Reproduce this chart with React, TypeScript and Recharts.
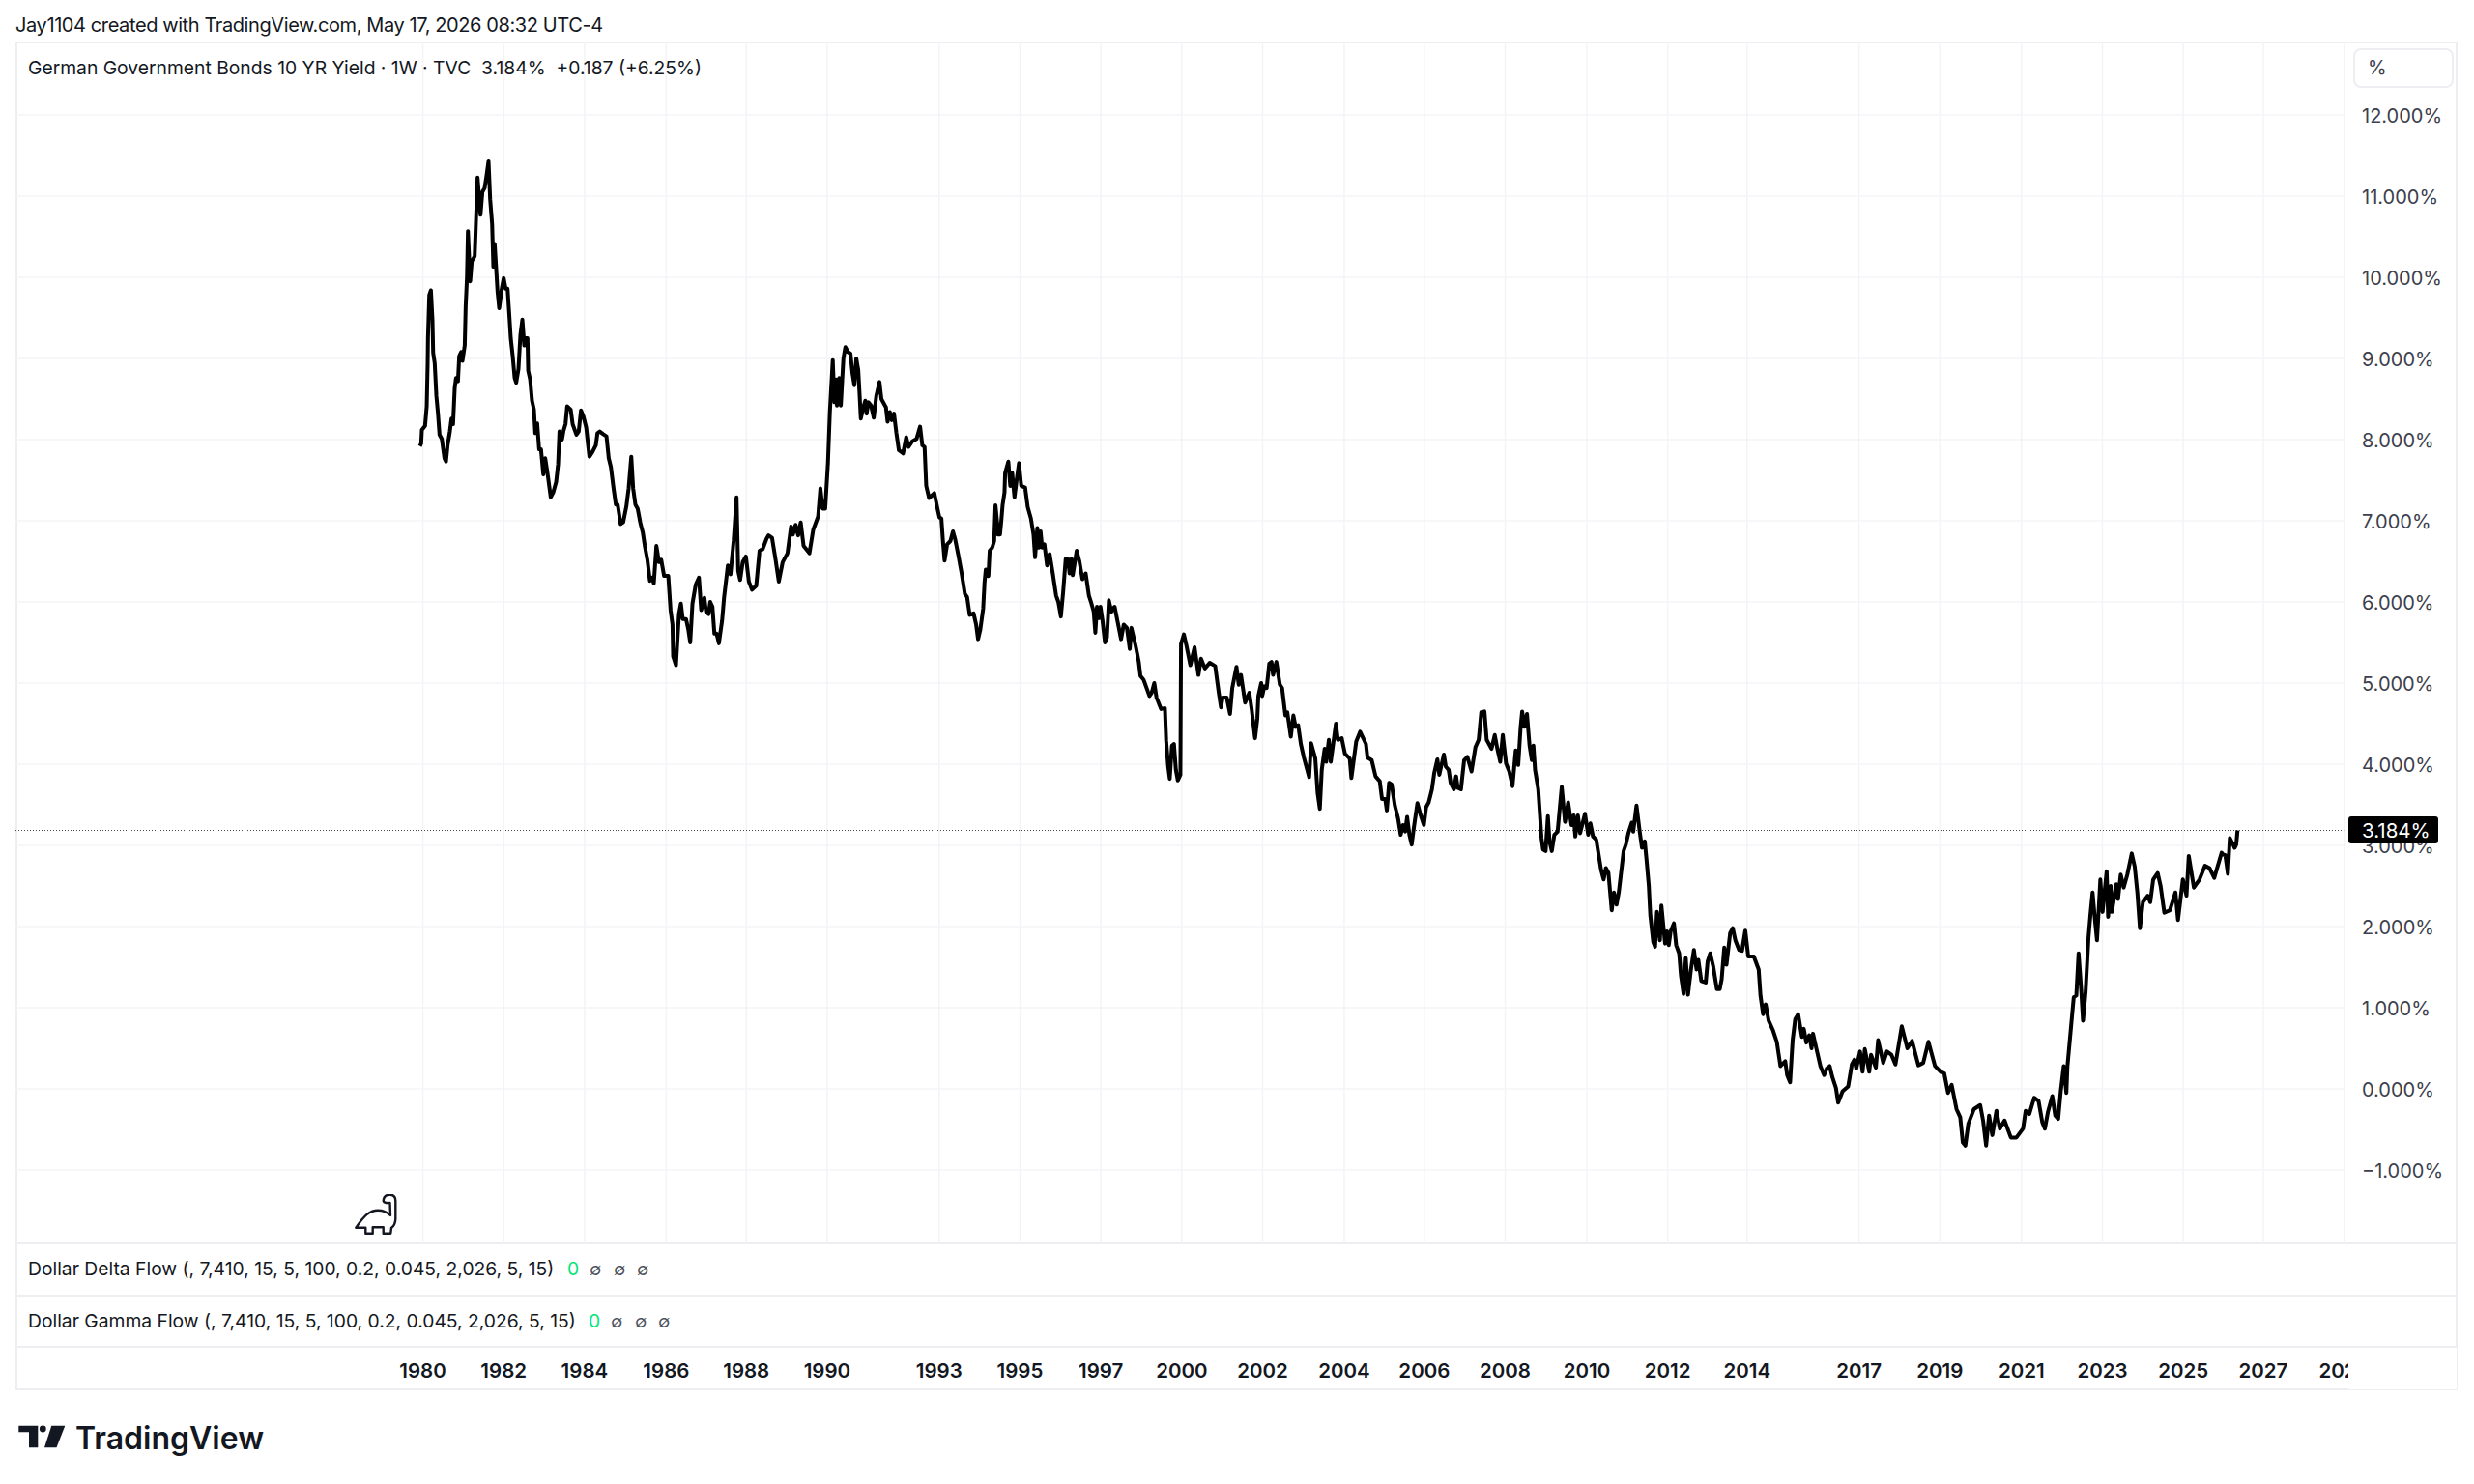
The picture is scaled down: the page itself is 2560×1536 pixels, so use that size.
import React from "react";
import { LineChart, Line, XAxis, YAxis, CartesianGrid, ReferenceLine } from "recharts";

// [weeks since the start of 1980 on TradingView's bar axis, 10Y yield in %]
const era1980s: number[][] = [
  [-3.7,7.92],[-2.1,7.95],[-1.2,8.12],[2.9,8.17],[5,8.41],[6.2,8.94],[6.6,9.25],[8.3,9.78],[10.4,9.84],[12.4,9.47],[13.3,9.07],[15.3,8.94],[17.4,8.54],[19.5,8.32],[21.5,8.06],[24.4,8.01],[27.8,7.77],[29.8,7.73],[31.9,7.93],[34.8,8.1],[36.9,8.26],[38.9,8.19],[41,8.63],[42.7,8.76],[45.2,8.72],[46.8,9.03],[49.3,9.08],[51,8.97],[53.9,9.16],[55.1,9.64],[56.8,10],[58,10.57],[60.9,9.95],[63,10.2],[66.7,10.26],[70.4,11.23],[74.2,10.77],[76.6,11.05],[79.5,11.1],[81.6,11.23],[84.5,11.43],[86.6,10.96],[89.1,10.66],[90.7,10.13],[92.4,10.41],[94.5,10.08],[96.1,9.82],[98.2,9.62],[101.5,9.86],[104,9.99],[106.5,9.86],[109,9.86],[111.4,9.51],[113.1,9.25],[115.6,9.03],[118.1,8.76],[120.1,8.7],[123,8.87],[125.5,9.29],[128,9.48],[130.5,9.16],[132.2,9.25],[134.6,9.25],[135.5,8.85],[138,8.74],[140.4,8.48],[142.9,8.37],[144.6,8.08],[147.1,8.2],[149.6,7.88],[152,7.88],[155,7.57],[157.4,7.77],[160.3,7.59],[164.5,7.29],[167.8,7.35],[171.5,7.48],[174,7.7],[175.7,8.1],[179,8],[181,8.11],[183.5,8.19],[185.6,8.41],[190.2,8.37],[192.7,8.19],[197.6,8.06],[200.5,8.1],[203.4,8.36],[206.7,8.28],[210.1,8.15],[212.1,7.97],[214.2,7.79],[218.3,7.85],[222.5,7.93],[224.6,8.08],[227.5,8.1],[231.6,8.07],[236.2,8.04],[239.1,7.77],[241.9,7.66],[245.3,7.4],[248.2,7.2],[250.6,7.2],[254.4,6.96],[257.7,6.98],[261.8,7.18],[264.7,7.4],[268.1,7.79],[270.5,7.4],[273.4,7.2],[276.3,7.15],[279.6,6.98],[283,6.85],[285.5,6.69],[288.8,6.52],[292.1,6.26],[295,6.3],[297.1,6.23],[300.4,6.69],[303.7,6.49],[306.6,6.52],[310.3,6.32],[315.7,6.32],[318.6,5.9],[321.1,5.72],[321.9,5.33],[325.6,5.22],[327.3,5.5],[329.4,5.85],[331.9,5.98],[334.3,5.79],[338.5,5.79],[341.4,5.66],[343.9,5.5],[346.8,5.98],[350.9,6.21],[355.1,6.3],[358,5.9],[362.1,6.05],[364.2,5.88],[367.5,5.85],[369.6,6],[372.5,5.94],[375,5.61],[377.8,5.61],[380.8,5.49],[384.9,5.77],[387.4,6.05],[392.3,6.45],[395.7,6.34],[399.8,6.76],[403.5,7.29],[405.6,6.38],[408.1,6.27],[411.4,6.49],[415.5,6.56],[419.3,6.25],[423.4,6.15],[428.8,6.2],[433,6.63],[437.1,6.65],[442.1,6.78],[444.6,6.82],[449.1,6.79],[453.7,6.52],[457.8,6.25],[462.8,6.49],[469,6.6],[473.6,6.93],[476,6.83],[479.4,6.95],[482.7,6.82],[486,6.98],[489.7,6.69],[497.2,6.6],[502.1,6.89],[508.3,7.05],[511.3,7.4],[514.2,7.15],[517.5,7.15],[521,7.71],
];

const era1990s: number[][] = [
  [523.5,8.34],[527.2,8.98],[529.3,8.46],[531.4,8.74],[532.6,8.42],[535.5,8.76],[537.6,8.42],[540.9,9],[543.4,9.14],[546.7,9.08],[550,9.06],[552.5,8.82],[555,8.67],[557.5,9],[560,8.86],[561.6,8.58],[563.3,8.26],[566.6,8.4],[569.1,8.48],[570.7,8.32],[573.2,8.46],[576.5,8.42],[579.9,8.27],[583.2,8.54],[587.3,8.71],[589.8,8.5],[595.6,8.4],[597.7,8.22],[600.6,8.34],[603.1,8.24],[606,8.32],[608.9,8.09],[612.2,7.87],[617.6,7.83],[621.7,8.03],[624.6,7.91],[629.6,7.98],[635,8.01],[639.5,8.16],[642.4,7.93],[645.3,7.91],[647.4,7.43],[651.1,7.28],[657.8,7.34],[661.9,7.15],[664.4,7.04],[666.9,7.03],[668.9,6.75],[671,6.51],[674.3,6.71],[678.5,6.75],[681.8,6.87],[684.7,6.77],[688.8,6.57],[693,6.35],[697.1,6.1],[700,6.06],[703.3,5.84],[708.3,5.86],[711.6,5.72],[714.1,5.54],[717,5.66],[720.7,5.92],[722.4,6.24],[724,6.4],[727.4,6.32],[729,6.63],[732.3,6.67],[734.8,6.75],[736.5,7.19],[738.5,6.99],[739.8,6.83],[742.3,6.83],[743.9,6.99],[745.6,7.19],[748.1,7.35],[748.9,7.59],[753,7.73],[755.5,7.43],[758,7.59],[760.9,7.29],[763.8,7.51],[766.7,7.71],[769.6,7.43],[774.6,7.41],[777.9,7.17],[782,7.03],[785.4,6.83],[787.4,6.55],[790.3,6.91],[792.4,6.67],[794.5,6.87],[796.5,6.67],[799.4,6.71],[802.8,6.45],[806.1,6.59],[810.2,6.35],[814.4,6.08],[817.3,6],[820.6,5.82],[823.5,6.12],[826.8,6.53],[829.7,6.53],[831.8,6.35],[834.2,6.53],[835.9,6.33],[840.9,6.63],[844.2,6.51],[848.3,6.28],[852.5,6.35],[856.6,6.08],[859.9,5.98],[862.8,5.88],[864.9,5.62],[867,5.94],[869.9,5.8],[871.5,5.94],[874,5.78],[877.3,5.5],[879.8,5.56],[882.3,6.02],[885.6,5.88],[887.7,5.92],[889.8,5.94],[893.9,5.74],[898,5.54],[901.4,5.72],[905.5,5.68],[909.2,5.42],[911.3,5.68],[916.7,5.46],[920.8,5.26],[922.9,5.09],[927,5.04],[934.5,4.84],[937.4,4.88],[940.7,5],[943.6,4.82],[949.4,4.68],[954.4,4.69],[956,4.29],[958.5,3.98],[960.6,3.82],[963.5,4.23],[966,4.25],[968.5,3.93],[971,3.8],[974.3,3.87],
];

const era2000s: number[][] = [
  [975.1,5.48],[978.8,5.6],[982.1,5.46],[987.1,5.22],[992.5,5.44],[997.5,5.1],[1000.8,5.3],[1005.8,5.18],[1012,5.25],[1019,5.21],[1023.6,4.88],[1026.5,4.7],[1028.6,4.82],[1033.9,4.82],[1038.1,4.62],[1041,4.94],[1046.4,5.2],[1049.3,4.98],[1052.2,5.1],[1057.5,4.76],[1062.9,4.88],[1065.9,4.68],[1070.3,4.32],[1073.2,4.56],[1074.5,4.84],[1078.2,5],[1079.5,4.84],[1082.3,4.96],[1085.2,4.94],[1088.6,5.24],[1091.5,5.26],[1093.5,5.1],[1097.7,5.26],[1102.2,4.98],[1105.1,4.94],[1109.3,4.6],[1111.8,4.64],[1116.3,4.34],[1119.6,4.6],[1122.5,4.46],[1125.8,4.48],[1129.2,4.25],[1132.9,4.09],[1139.9,3.84],[1142.4,4.26],[1147.8,4.07],[1150.7,3.65],[1153.6,3.45],[1156.1,3.93],[1159.8,4.19],[1161.9,4.03],[1165.2,4.3],[1167.7,4.03],[1174.3,4.5],[1176.8,4.3],[1181.8,4.32],[1185.9,4.13],[1192.1,4.07],[1194.2,3.83],[1200.4,4.28],[1205.4,4.4],[1212.9,4.25],[1214.9,4.08],[1220.3,4.05],[1225.3,3.85],[1230.7,3.79],[1233.6,3.57],[1237.7,3.57],[1239.8,3.43],[1242.7,3.77],[1246,3.75],[1250.1,3.49],[1254.3,3.33],[1257.6,3.13],[1260.5,3.25],[1263.4,3.17],[1265.9,3.35],[1268.8,3.13],[1271.7,3.01],[1275,3.25],[1279.1,3.52],[1283.3,3.37],[1287.4,3.25],[1290.3,3.47],[1293.6,3.53],[1297.8,3.69],[1300.7,3.89],[1304.8,4.06],[1307.3,3.87],[1313.1,4.12],[1315.6,3.97],[1319.3,3.93],[1321.8,3.77],[1326,3.69],[1328.9,3.85],[1330.9,3.71],[1335.1,3.69],[1339.2,4.05],[1343.4,4.09],[1348.7,3.91],[1353.7,4.21],[1357.9,4.3],[1361.2,4.64],[1365.3,4.65],[1368.2,4.3],[1374.4,4.19],[1378.6,4.36],[1381.9,4.19],[1385.6,4.03],[1388.9,4.36],[1393.1,4.01],[1397.2,3.91],[1401.4,3.73],[1405.5,4.17],[1408.8,3.99],[1411.7,4.44],[1413.8,4.65],[1416.7,4.46],[1420,4.62],[1423.3,4.23],[1426.2,4.05],[1428.3,4.23],[1430.4,3.93],[1434.5,3.69],[1438.7,3.09],[1440.7,2.95],[1444,2.93],[1446.9,3.36],[1449,3.05],[1451.9,2.93],[1455.2,3.13],[1459.4,3.17],[1464.7,3.72],[1468.9,3.29],[1473,3.53],[1477.2,3.25],[1480.1,3.37],[1482.2,3.11],[1485.5,3.37],[1488.4,3.15],[1494.6,3.39],[1498.7,3.13],[1501.6,3.27],[1504.9,3.11],[1509.1,3.07],[1515.3,2.7],[1518.6,2.58],[1521.5,2.72],[1524.8,2.66],[1529,2.2],[1531.9,2.42],[1535.2,2.27],[1538.1,2.42],[1544.3,2.93],[1547.2,3.01],[1550.5,3.15],[1554.7,3.28],[1556.7,3.17],[1560.9,3.49],[1565,3.17],[1567.9,2.97],
];

const era2010s: number[][] = [
  [1571.5,3.05],[1573.9,2.81],[1576.7,2.5],[1578.6,2.14],[1582.4,1.81],[1584.8,1.75],[1587.2,2.18],[1591,1.83],[1592.9,2.26],[1597.6,1.79],[1600,1.94],[1602.4,1.77],[1604.8,1.94],[1609,2.04],[1611.9,1.77],[1615.7,1.67],[1618.1,1.39],[1621.4,1.17],[1624.3,1.61],[1627.1,1.16],[1630.9,1.47],[1634.7,1.71],[1638.1,1.47],[1640.4,1.59],[1644.2,1.33],[1649.9,1.31],[1652.3,1.57],[1655.7,1.67],[1659.5,1.51],[1664.2,1.23],[1668,1.23],[1670.4,1.35],[1673.7,1.74],[1676.6,1.53],[1681.3,1.92],[1684.7,1.98],[1688,1.83],[1692.8,1.71],[1696.6,1.7],[1700.8,1.95],[1704.6,1.63],[1711.8,1.63],[1718,1.47],[1720.3,1.15],[1723.7,0.92],[1727,1.04],[1730.8,0.84],[1736.5,0.72],[1741.3,0.58],[1746,0.28],[1752.2,0.34],[1754.6,0.17],[1758.4,0.08],[1761.7,0.6],[1765,0.86],[1768.8,0.92],[1773.6,0.64],[1776,0.74],[1779.3,0.57],[1783.1,0.66],[1786,0.5],[1787.9,0.68],[1792.6,0.48],[1797.4,0.28],[1802.1,0.17],[1805.5,0.25],[1809.3,0.28],[1812.6,0.15],[1817.4,0.01],[1820.2,-0.17],[1825.9,-0.03],[1833.1,0.03],[1837.8,0.3],[1841.1,0.36],[1843.5,0.25],[1848.3,0.46],[1851.6,0.21],[1854.5,0.49],[1860.2,0.21],[1862.5,0.42],[1868.7,0.26],[1871.6,0.6],[1878.2,0.32],[1883,0.46],[1888.7,0.42],[1893.9,0.3],[1902,0.77],[1909.2,0.5],[1915.3,0.59],[1923.4,0.29],[1929.6,0.32],[1936.3,0.58],[1944.8,0.28],[1952,0.21],[1956.7,0.19],[1961.5,-0.05],[1966.2,0.05],[1972.4,-0.25],[1977.2,-0.35],[1980.5,-0.66],[1983.8,-0.7],[1987.6,-0.43],[1994.8,-0.25],[2002.9,-0.2],[2006.6,-0.39],[2010.5,-0.7],[2014.3,-0.33],[2018.5,-0.57],[2023.8,-0.27],[2028.1,-0.49],[2034.2,-0.39],[2042.3,-0.6],[2049.5,-0.6],[2058,-0.49],[2061.3,-0.27],[2066.1,-0.31],[2072.3,-0.11],[2078,-0.15],[2082.7,-0.41],[2086.1,-0.49],[2089.9,-0.29],[2095.6,-0.09],[2099.4,-0.33],[2103.2,-0.37],[2106.5,-0.03],[2110.3,0.28],[2113.7,-0.05],[2115.1,0.28],[2120.8,0.88],[2123.2,1.13],[2126.5,1.15],[2129.4,1.67],[2132.7,1.23],[2135.1,0.84],[2138.4,1.19],[2142.2,1.87],[2144.6,2.14],[2147.4,2.42],[2150.3,2.1],[2153.1,1.83],[2157.4,2.58],[2160.3,2.18],[2165.5,2.68],[2167.4,2.12],[2170.7,2.5],[2172.2,2.18],[2177.9,2.52],[2180.2,2.34],[2183.6,2.64],[2187.4,2.48],[2192.1,2.64],[2197.8,2.9],[2201.6,2.74],[2205,2.42],[2208.3,1.98],[2212.1,2.3],[2218.3,2.38],[2221.6,2.3],[2225.4,2.58],[2231.1,2.66],[2234.9,2.5],[2239.7,2.17],[2246.8,2.2],[2254,2.42],[2257.3,2.08],[2263.5,2.58],[2268.2,2.38],[2271.1,2.87],[2277.7,2.48],[2284.9,2.58],[2292,2.75],[2297.7,2.72],[2303.9,2.6],[2313.4,2.91],[2314.8,2.89],[2318.1,2.88],[2321.4,2.65],[2323.9,3.09],[2328.1,3.01],[2330.1,2.97],[2332.2,3.01],[2333.8,3.184],
];

const yearLabels = ["1980","1982","1984","1986","1988","1990","1993","1995","1997","2000","2002","2004","2006","2008","2010","2012","2014","2017","2019","2021","2023","2025","2027","2029"];
const yearWeeks = [0,104,208,313,416,520,664,768,872,976,1080,1185,1288,1392,1497,1601,1703,1847,1951,2056,2160,2264,2367,2471];
const priceTicks = [-1,0,1,2,3,4,5,6,7,8,9,10,11,12];
const lastPrice = 3.184;

const rows = [...era1980s, ...era1990s, ...era2000s, ...era2010s].map(([week, y]) => ({ week, y }));
const labelByWeek = new Map(yearWeeks.map((w, i) => [w, yearLabels[i]]));

const FONT = "Inter, 'Noto Sans', sans-serif";
const INK = "#131722";
const GRID = "#f3f4f7";
const BORDER = "#eceef2";

const abs = (left: number, top: number, extra: React.CSSProperties = {}): React.CSSProperties => ({
  position: "absolute", left, top, fontFamily: FONT, color: INK, whiteSpace: "pre", lineHeight: 1, ...extra,
});

const Line_H = ({ y }: { y: number }) => (
  <div style={{ position: "absolute", left: 16, width: 2527, top: y, height: 2, background: BORDER }} />
);

const IndicatorLegend = ({ y, text, zero, nulls }: { y: number; text: string; zero: number; nulls: number[] }) => (
  <>
    <div style={abs(29, y - 9, { fontSize: 19.3 })}>{text}</div>
    <div style={abs(zero, y - 9, { fontSize: 19.3, color: "#00e676" })}>0</div>
    {nulls.map((x) => (
      <div key={x} style={abs(x, y - 8, { fontSize: 18, color: "#50535e" })}>∅</div>
    ))}
  </>
);

export default function App() {
  return (
    <div style={{ position: "absolute", left: 0, top: 0, width: 2560, height: 1536, background: "#fff", overflow: "hidden" }}>
      <div style={{ position: "absolute", left: 16, top: 43, width: 2527, height: 1396, border: `2px solid ${BORDER}`, boxSizing: "border-box" }} />
      <Line_H y={1286} />
      <Line_H y={1340} />
      <Line_H y={1393} />
      <div style={{ position: "absolute", left: 0, top: 0 }}>
        <LineChart width={2560} height={1536} data={rows} margin={{ top: 43, left: 16, right: 17, bottom: 96 }}>
          <CartesianGrid stroke={GRID} strokeWidth={1.5} horizontalValues={priceTicks} verticalValues={yearWeeks} />
          <XAxis
            dataKey="week"
            type="number"
            domain={[-523.9, 2471.4]}
            ticks={yearWeeks}
            interval={0}
            allowDataOverflow
            height={153}
            axisLine={false}
            tickLine={false}
            tickSize={0}
            tickMargin={124}
            tickFormatter={(w: number) => labelByWeek.get(w) ?? ""}
            tick={{ fill: INK, fontFamily: FONT, fontSize: 20.5, fontWeight: 600 }}
          />
          <YAxis
            orientation="right"
            type="number"
            width={117}
            domain={[-1.905, 12.905]}
            ticks={priceTicks}
            interval={0}
            allowDataOverflow
            axisLine={{ stroke: GRID, strokeWidth: 1.5 }}
            tickLine={false}
            tickSize={0}
            tickMargin={18}
            tickFormatter={(v: number) => `${v < 0 ? "−" : ""}${Math.abs(v).toFixed(3)}%`}
            tick={{ fill: "#3c404c", fontFamily: FONT, fontSize: 20, dy: 1 }}
          />
          <ReferenceLine y={lastPrice} stroke="#444" strokeWidth={1} strokeDasharray="1 2" />
          <Line dataKey="y" type="linear" stroke="#000" strokeWidth={4} strokeLinejoin="round" dot={false} isAnimationActive={false} />
        </LineChart>
      </div>

      <div style={{ position: "absolute", left: 2430, top: 1395, width: 112, height: 43, background: "#fff" }} />

      <div style={abs(16, 16, { fontSize: 20, letterSpacing: -0.4 })}>Jay1104 created with TradingView.com, May 17, 2026 08:32 UTC-4</div>
      <div style={abs(29, 60.5, { fontSize: 19.3 })}>German Government Bonds 10 YR Yield · 1W · TVC  3.184%  +0.187 (+6.25%)</div>

      <div style={{ position: "absolute", left: 2435, top: 50, width: 104, height: 41, border: `2px solid ${BORDER}`, borderRadius: 8, boxSizing: "border-box", background: "#fff" }} />
      <div style={abs(2450, 60, { fontSize: 20, color: "#3c404c" })}>%</div>

      <div style={{ position: "absolute", left: 2430, top: 845, width: 93, height: 28, background: "#000", borderRadius: 3 }} />
      <div style={abs(2444, 849.5, { fontSize: 20.5, color: "#fff" })}>{lastPrice.toFixed(3)}%</div>

      <IndicatorLegend y={1313} text="Dollar Delta Flow (, 7,410, 15, 5, 100, 0.2, 0.045, 2,026, 5, 15)" zero={587} nulls={[610, 635, 659]} />
      <IndicatorLegend y={1367} text="Dollar Gamma Flow (, 7,410, 15, 5, 100, 0.2, 0.045, 2,026, 5, 15)" zero={609} nulls={[632, 657, 681]} />

      <svg style={{ position: "absolute", left: 367, top: 1236 }} width={46} height={43} viewBox="0 0 46 43">
        <path d="M1.3 34.7 Q8 25 13 20.7 Q18 16.7 24 16.7 Q32 16.7 37 22 L36.5 9 Q30 9.5 29.7 7 Q30 0.7 36.3 0.7 Q42.3 0.7 42.3 7 L42.3 25.7 Q42 32 38 35 L37.3 40.7 L29.7 40.7 L29.7 34.3 L18.7 34.3 L18.7 40.7 L11.3 40.7 L11.3 34.7 Z" fill="none" stroke={INK} strokeWidth={2.4} strokeLinejoin="round" />
      </svg>

      <svg style={{ position: "absolute", left: 19, top: 1475 }} width={50} height={25} viewBox="0 0 50 25">
        <path d="M0.3 0.7 H20.3 V23.3 H11 V7.3 H0.3 Z" fill={INK} />
        <circle cx={25.3} cy={4} r={3.4} fill={INK} />
        <path d="M34.3 0.7 H48.3 L39.5 23.3 H27 Z" fill={INK} />
      </svg>
      <div style={abs(78, 1473, { fontSize: 32, fontWeight: 600 })}>TradingView</div>
    </div>
  );
}
